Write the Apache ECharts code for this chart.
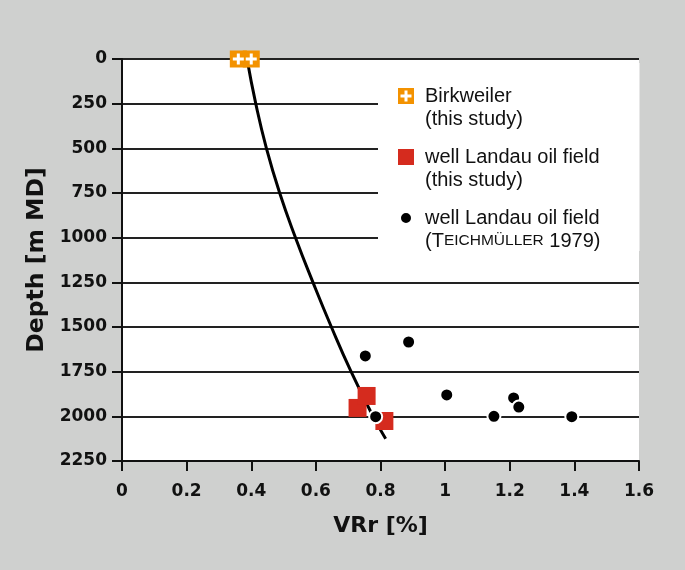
<!DOCTYPE html>
<html>
<head>
<meta charset="utf-8">
<script src="https://cdn.jsdelivr.net/npm/echarts@6/dist/echarts.min.js"></script>
<style>
html,body{margin:0;padding:0;background:#cfd0cf;}
#c{width:685px;height:570px;}
</style>
</head>
<body>
<div id="c"></div>
<script>
// Birkweiler (this study)
const birkVR = [0.36, 0.40];
const birkDepth = [0, 0];
// well Landau oil field (this study)
const landauVR = [0.729, 0.757, 0.812];
const landauDepth = [1953, 1886, 2026];
// well Landau oil field (Teichmüller 1979)
const teichVR = [0.753, 0.887, 1.005, 1.212, 1.228, 1.151, 1.392, 0.785];
const teichDepth = [1662, 1584, 1880, 1897, 1948, 2000, 2002, 2002];
// trend curve
const curveDepth = [0, 250, 500, 750, 1000, 1250, 1500, 1750, 2000, 2125];
const curveVR = [0.387, 0.414, 0.447, 0.488, 0.537, 0.591, 0.648, 0.709, 0.777, 0.816];
// axis ticks
const xTicks = [0, 0.2, 0.4, 0.6, 0.8, 1, 1.2, 1.4, 1.6];
const yTicks = [0, 250, 500, 750, 1000, 1250, 1500, 1750, 2000, 2250];

const pairs = (xs, ys) => xs.map((x, i) => [x, ys[i]]);

const ORANGE = '#f39200';
const RED = '#d52b1e';
const plusPath = 'path://M6.5 2.5L9.5 2.5L9.5 6.5L13.5 6.5L13.5 9.5L9.5 9.5L9.5 13.5L6.5 13.5L6.5 9.5L2.5 9.5L2.5 6.5L6.5 6.5Z';
const squarePlusHole = 'path://M0 0L16 0L16 16L0 16Z M6.5 2.5L6.5 6.5L2.5 6.5L2.5 9.5L6.5 9.5L6.5 13.5L9.5 13.5L9.5 9.5L13.5 9.5L13.5 6.5L9.5 6.5L9.5 2.5Z';
const smallCircle = 'path://M0 0M16 16M8 2A6 6 0 1 1 8 14A6 6 0 1 1 8 2Z';

const legendText = {
  'Birkweiler': '{g| }\n{g| }{n|Birkweiler}\n{g| }{n|(this study)}',
  'Landau': '{g| }\n{g| }{n|well Landau oil field}\n{g| }{n|(this study)}',
  'Teichmuller': '{g| }\n{g| }{n|well Landau oil field}\n{g| }{n|(T}{s|EICHMÜLLER}{n| 1979)}'
};

const chart = echarts.init(document.getElementById('c'));
const labelFont = {fontFamily: 'DejaVu Sans', fontWeight: 'bold', fontSize: 17, color: '#111'};
chart.setOption({
  animation: false,
  backgroundColor: '#cfd0cf',
  grid: {left: 122, right: 46, top: 59, bottom: 109, show: true, backgroundColor: '#ffffff', borderWidth: 0},
  legend: {
    orient: 'vertical',
    left: 378, top: 63,
    padding: [0, 39, 0, 19],
    itemGap: -5,
    itemWidth: 16, itemHeight: 16,
    backgroundColor: '#ffffff',
    selectedMode: false,
    data: [
      {name: 'Birkweiler', icon: squarePlusHole},
      {name: 'Landau', icon: 'rect'},
      {name: 'Teichmuller', icon: smallCircle}
    ],
    formatter: name => legendText[name],
    textStyle: {
      rich: {
        g: {width: 6, fontSize: 20, lineHeight: 23},
        n: {fontFamily: 'Liberation Sans', fontSize: 20, lineHeight: 23, color: '#111'},
        s: {fontFamily: 'Liberation Sans', fontSize: 15.5, lineHeight: 23, color: '#111'}
      }
    }
  },
  xAxis: {
    type: 'value', min: xTicks[0], max: xTicks[xTicks.length - 1], interval: 0.2,
    name: 'VRr [%]', nameLocation: 'middle', nameGap: 54,
    nameTextStyle: {fontFamily: 'DejaVu Sans', fontWeight: 'bold', fontSize: 22, color: '#111'},
    axisLine: {show: true, onZero: false, lineStyle: {color: '#111', width: 2}},
    axisTick: {show: true, length: 10, lineStyle: {color: '#111', width: 2}},
    axisLabel: Object.assign({margin: 22, formatter: v => String(+v.toFixed(1))}, labelFont),
    splitLine: {show: false}
  },
  yAxis: {
    type: 'value', inverse: true, min: yTicks[0], max: yTicks[yTicks.length - 1], interval: 250,
    name: 'Depth [m MD]', nameLocation: 'middle', nameGap: 60,
    nameTextStyle: {fontFamily: 'DejaVu Sans', fontWeight: 'bold', fontSize: 23.5, color: '#111'},
    axisLine: {show: true, onZero: false, lineStyle: {color: '#111', width: 2}},
    axisTick: {show: true, length: 10, lineStyle: {color: '#111', width: 2}},
    axisLabel: Object.assign({margin: 15, formatter: v => String(v)}, labelFont),
    splitLine: {show: true, lineStyle: {color: '#222', width: 2}}
  },
  series: [
    {
      name: 'curve', type: 'line', smooth: true, showSymbol: false, z: 2,
      data: pairs(curveVR, curveDepth),
      lineStyle: {color: '#000', width: 3}
    },
    {
      name: 'Landau', type: 'scatter', symbol: 'rect', symbolSize: 18, z: 3,
      data: pairs(landauVR, landauDepth),
      itemStyle: {color: RED, opacity: 1}
    },
    {
      name: 'Teichmuller', type: 'scatter', symbol: 'circle', symbolSize: 13, z: 4,
      data: pairs(teichVR, teichDepth),
      itemStyle: {color: '#000', borderColor: '#fff', borderWidth: 2, opacity: 1}
    },
    {
      name: 'Birkweiler', type: 'scatter', symbol: 'rect', symbolSize: 17, z: 5,
      data: pairs(birkVR, birkDepth),
      itemStyle: {color: ORANGE, opacity: 1}
    },
    {
      name: 'BirkweilerPlus', type: 'scatter', symbol: plusPath, symbolSize: 11, z: 6,
      data: pairs(birkVR, birkDepth),
      itemStyle: {color: '#fff', opacity: 1}
    }
  ]
});
</script>
</body>
</html>
